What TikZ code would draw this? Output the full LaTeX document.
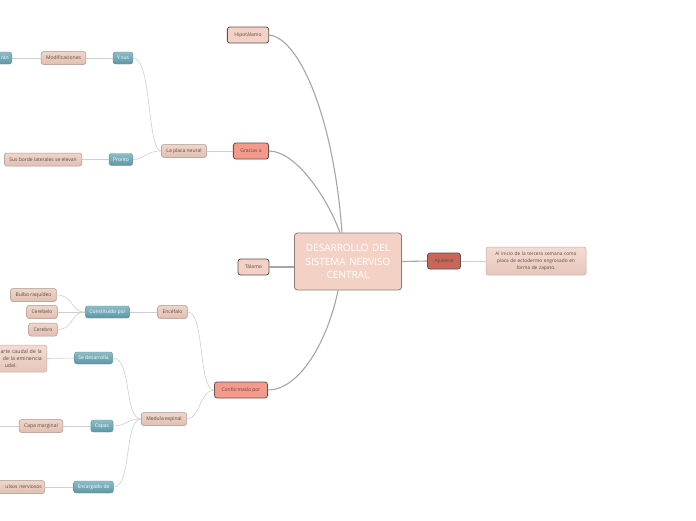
\documentclass[tikz,border=0pt]{standalone}
\usepackage{fontspec}
\setmainfont{Open Sans}
\definecolor{cLight}{HTML}{F3D2C5}
\definecolor{cRed}{HTML}{F59A8A}
\definecolor{cDark}{HTML}{C86657}
\definecolor{cBorderDark}{HTML}{5E5250}
\definecolor{cText}{HTML}{5A4A46}
\definecolor{cCentralBorder}{HTML}{8C7B78}
\definecolor{cSubTop}{HTML}{EED5CA}
\definecolor{cSubBot}{HTML}{E2BFB1}
\definecolor{cSubBorder}{HTML}{A8958E}
\definecolor{cTealTop}{HTML}{8DBDC8}
\definecolor{cTealBot}{HTML}{5E96A4}
\definecolor{cTealBorder}{HTML}{5C8F9B}
\definecolor{cNoteTop}{HTML}{F3DCD4}
\definecolor{cNoteBot}{HTML}{E6C6BA}
\definecolor{cNoteBorder}{HTML}{C4ADA5}
\definecolor{cLine}{HTML}{A6A6A6}
\definecolor{cLineS}{HTML}{CFCFCF}
\tikzset{
  base/.style={rounded corners=2.5pt, font=\fontsize{5}{6.2}\selectfont, inner ysep=0pt, align=center},
  mainbox/.style={base, draw=cBorderDark, line width=0.8pt, fill=cLight, text=cText, minimum height=16pt, inner xsep=7pt},
  redbox/.style={mainbox, fill=cRed},
  darkbox/.style={mainbox, fill=cDark},
  subbox/.style={base, draw=cSubBorder, line width=0.5pt, top color=cSubTop, bottom color=cSubBot, text=cText, minimum height=13pt, inner xsep=5pt},
  tealbox/.style={base, draw=cTealBorder, line width=0.4pt, top color=cTealTop, bottom color=cTealBot, text=white, minimum height=12pt, inner xsep=4pt},
  notebox/.style={base, draw=cNoteBorder, line width=0.5pt, top color=cNoteTop, bottom color=cNoteBot, text=cText, inner ysep=3pt},
  bigline/.style={draw=cLine, line width=1.1pt},
  smallline/.style={draw=cLineS, line width=0.6pt},
}
\begin{document}
\begin{tikzpicture}[x=1pt,y=-1pt]
\useasboundingbox (0,0) rectangle (696,520);
\clip (0,0) rectangle (696,520);
\fill[white] (0,0) rectangle (696,520);

% central
\node[base, draw=cCentralBorder, line width=0.8pt, fill=cLight, text=white, minimum width=107pt, minimum height=57pt, text width=104pt, inner xsep=1.5pt, font=\fontsize{10}{13.5}\selectfont, rounded corners=3pt] (central) at (348,261.5) {DESARROLLO DEL\\ SISTEMA NERVISO\\ CENTRAL};

% first level
\node[mainbox] (hipo) at (248,35) {Hipotálamo};
\node[redbox] (gracias) at (251,151) {Gracias a};
\node[mainbox] (talamo) at (253.5,267) {Tálamo};
\node[redbox] (conf) at (241,390) {Conformado por};
\node[darkbox] (aparece) at (444,261) {Aparece};
\node[notebox, font=\fontsize{4.8}{7.2}\selectfont, text width=98pt, inner xsep=1pt, minimum height=28pt] (nota) at (536,261) {Al inicio de la tercera semana como\\ placa de ectodermo engrosado en\\ forma de zapato.};

% second level: placa neural branch
\node[subbox] (placa) at (184,151) {La placa neural};
\node[tealbox] (ysus) at (123,58) {Y sus};
\node[subbox] (modif) at (63.5,58) {Modificaciones};
\node[tealbox, anchor=east, text width=24pt, align=right, inner xsep=3pt] (rann) at (12,58) {rán};
\node[tealbox] (pronto) at (121,159.5) {Pronto};
\node[subbox, anchor=east] (bordes) at (82,159.5) {Sus borde laterales se elevan};

% encefalo branch
\node[subbox] (encef) at (172.5,312) {Encéfalo};
\node[tealbox] (const) at (107.5,312) {Constituido por};
\node[subbox] (bulbo) at (33.5,295) {Bulbo raquídeo};
\node[subbox] (cerebelo) at (42,312) {Cerebelo};
\node[subbox] (cerebro) at (43,329.5) {Cerebro};

% medula branch
\node[subbox] (medula) at (164,419) {Medula espinal};
\node[tealbox] (sedes) at (93.5,358) {Se desarrolla};
\node[notebox, anchor=east, text width=42pt, inner xsep=5pt, minimum height=27pt, inner ysep=2pt, align=right, font=\fontsize{5.2}{7}\selectfont] (caudal) at (47,358.5) {arte caudal de la\\ de la eminencia\\ udal.\hspace*{25pt}};
\node[tealbox] (capas) at (102,426) {Capas};
\node[subbox] (capam) at (41,426) {Capa marginal};
\coordinate (capaend) at (0,426);
\node[tealbox] (encarg) at (93.5,487) {Encargado de};
\node[subbox, anchor=east, text width=42pt, align=right, inner xsep=3pt] (impulsos) at (45,487) {ulsos nerviosos};

% main connectors
\draw[bigline] (hipo.east) .. controls (300,38) and (334,120) .. ([xshift=-6pt]central.north);
\draw[bigline] (gracias.east) .. controls (295,151) and (326,195) .. ([xshift=-8pt]central.north);
\draw[bigline] (talamo.east) -- (talamo.east -| central.west);
\draw[bigline] ([xshift=-10pt]central.south) .. controls (328,340) and (300,390) .. (conf.east);
\draw[bigline] (central.east) -- (aparece.west);
\draw[smallline] (aparece.east) -- (nota.west);

% placa neural connectors
\draw[smallline] (gracias.west) -- (placa.east);
\draw[smallline] (placa.west) .. controls (147,151) and (152,58) .. (ysus.east);
\draw[smallline] (placa.west) .. controls (145,151) and (145,159.5) .. (pronto.east);
\draw[smallline] (ysus.west) -- (modif.east);
\draw[smallline] (modif.west) -- (rann.east);
\draw[smallline] (pronto.west) -- (bordes.east);

% encefalo / medula connectors
\draw[smallline] (conf.west) .. controls (198,390) and (205,312) .. (encef.east);
\draw[smallline] (conf.west) .. controls (200,390) and (200,419) .. (medula.east);
\draw[smallline] (encef.west) -- (const.east);
\draw[smallline] (const.west) .. controls (70,312) and (74,295) .. (bulbo.east);
\draw[smallline] (const.west) -- (cerebelo.east);
\draw[smallline] (const.west) .. controls (70,312) and (74,329.5) .. (cerebro.east);
\draw[smallline] (medula.west) .. controls (124,419) and (132,358) .. (sedes.east);
\draw[smallline] (medula.west) .. controls (126,419) and (126,426) .. (capas.east);
\draw[smallline] (medula.west) .. controls (124,419) and (132,487) .. (encarg.east);
\draw[smallline] (sedes.west) -- (caudal.east);
\draw[smallline] (capas.west) -- (capam.east);
\draw[smallline] (capam.west) -- (capaend);
\draw[smallline] (encarg.west) -- (impulsos.east);
\end{tikzpicture}
\end{document}
